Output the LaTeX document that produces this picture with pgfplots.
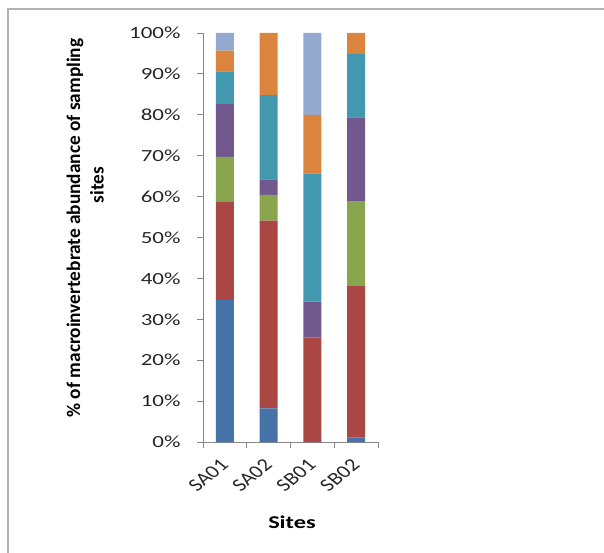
\documentclass[border=0pt]{standalone}
\usepackage{pgfplots}
\pgfplotsset{compat=1.18}
\usepackage{fontspec}
\setmainfont{Carlito}
\usepackage{graphicx}
\definecolor{c1}{HTML}{4572A7}
\definecolor{c2}{HTML}{AA4643}
\definecolor{c3}{HTML}{89A54E}
\definecolor{c4}{HTML}{71588F}
\definecolor{c5}{HTML}{4198AF}
\definecolor{c6}{HTML}{DB843D}
\definecolor{c7}{HTML}{93A9CF}
\definecolor{axgray}{HTML}{868686}
\newcommand{\xl}[1]{\scalebox{1.25}[1]{\rotatebox{45}{\fontsize{18}{21}\selectfont #1}}}
\begin{document}
\begin{tikzpicture}[x=1pt,y=1pt]
\path[use as bounding box] (0pt,0pt) rectangle (604pt,-553pt);
\draw[gray!60, line width=1.5pt] (8pt,-553pt) -- (8pt,-9pt) -- (604pt,-9pt);
\begin{axis}[
  at={(203pt,-442pt)}, anchor=south west,
  scale only axis, width=175pt, height=409pt,
  ybar stacked, bar width=18pt,
  xmin=0.5, xmax=4.5, ymin=0, ymax=100,
  axis x line*=bottom, axis y line*=left,
  axis line style={axgray, line width=0.8pt},
  tick align=outside,
  major tick length=6pt,
  minor tick length=6pt,
  /pgf/number format/assume math mode=true,
  ytick={0,10,...,100},
  yticklabel={\scalebox{1.35}[1]{\pgfmathprintnumber{\tick}\%}},
  y tick label style={font=\fontsize{17}{20}\selectfont, color=black!85, anchor=east, xshift=-13pt},
  ytick style={axgray, line width=0.8pt},
  xtick={1,2,3,4},
  xticklabels={\xl{SA01},\xl{SA02},\xl{SB01},\xl{SB02}},
  xtick style={draw=none},
  minor xtick={0.5,1.5,2.5,3.5,4.5},
  minor x tick style={draw=axgray, line width=0.8pt},
  x tick label style={color=black!85, anchor=north east, xshift=5pt, yshift=-10pt, inner sep=0pt},
  every axis plot/.append style={draw=none},
  clip=false,
]
\addplot[fill=c1] coordinates {(1,34.7) (2,8.2) (3,0) (4,1.1)};
\addplot[fill=c2] coordinates {(1,24.0) (2,45.9) (3,25.5) (4,37.0)};
\addplot[fill=c3] coordinates {(1,11.0) (2,6.3) (3,0) (4,20.8)};
\addplot[fill=c4] coordinates {(1,12.9) (2,3.8) (3,8.8) (4,20.5)};
\addplot[fill=c5] coordinates {(1,8.0) (2,20.6) (3,31.4) (4,15.5)};
\addplot[fill=c6] coordinates {(1,5.1) (2,15.2) (3,14.3) (4,5.1)};
\addplot[fill=c7] coordinates {(1,4.3) (2,0) (3,20.0) (4,0)};
\end{axis}
\node[font=\bfseries\fontsize{19.3}{22}\selectfont, rotate=90] at (75pt,-228pt) {\% of macroinvertebrate abundance of sampling};
\node[font=\bfseries\fontsize{19.3}{22}\selectfont, rotate=90] at (97pt,-185pt) {sites};
\node[font=\bfseries\fontsize{18}{21}\selectfont] at (292pt,-522pt) {\scalebox{1.35}[1]{Sites}};
\end{tikzpicture}
\end{document}
